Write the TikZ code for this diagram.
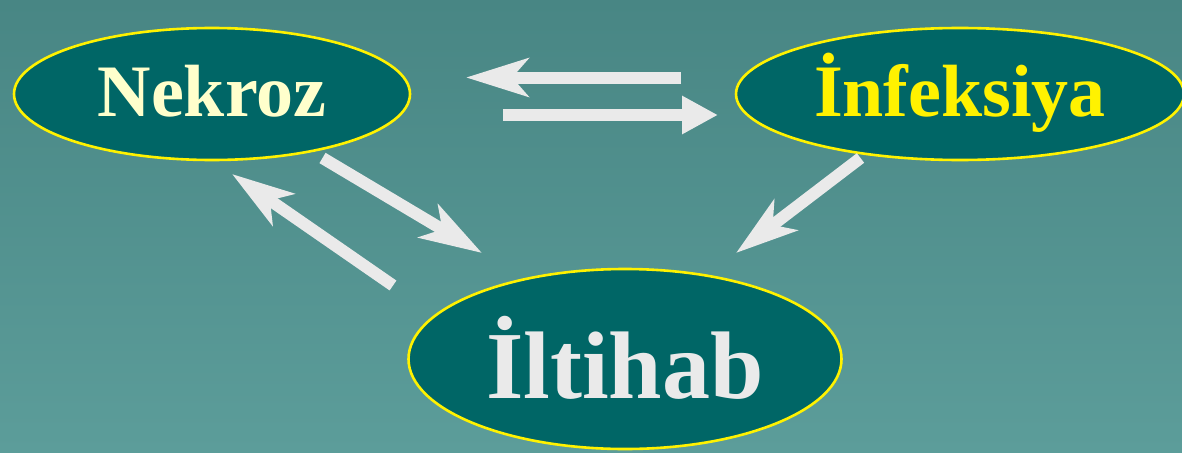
\documentclass[tikz,border=0pt]{standalone}
\usepackage{fontspec}
\setmainfont{Liberation Serif}
\usetikzlibrary{arrows.meta,shapes.geometric}

\definecolor{bgtop}{RGB}{72,134,132}
\definecolor{bgbot}{RGB}{92,157,154}
\definecolor{blobfill}{RGB}{0,102,102}
\definecolor{arrowgray}{RGB}{234,234,234}
\definecolor{cream}{RGB}{255,255,204}

\tikzset{x=1pt,y=-1pt}
\tikzset{blob/.style={ellipse,draw=yellow,line width=2.6pt,fill=blobfill,
        inner sep=0pt,font=\bfseries}}
\tikzset{flow/.style={draw=arrowgray,line width=12pt,
        -{Stealth[length=62pt,width=38pt,inset=16pt,fill=arrowgray]}}}
\tikzset{flowb/.style={draw=arrowgray,line width=12pt,
        -{Triangle[length=36pt,width=36pt,fill=arrowgray]}}}

\begin{document}
\begin{tikzpicture}
    \shade[top color=bgtop,bottom color=bgbot] (0,0) rectangle (1182,452);
    \useasboundingbox (0,0) rectangle (1182,452);

    \node[blob,minimum width=396pt,minimum height=132pt,text=cream,
          font=\fontsize{74}{74}\bfseries,text height=44pt,text depth=0pt]
          (nek) at (212,94) {Nekroz};
    \node[blob,minimum width=448pt,minimum height=132pt,text=yellow,
          font=\fontsize{74}{74}\bfseries,text height=44pt,text depth=0pt]
          (inf) at (960,94) {İnfeksiya};
    \node[blob,minimum width=433pt,minimum height=180pt,text=arrowgray,
          font=\fontsize{96}{96}\bfseries,text height=78pt,text depth=0pt]
          (ilt) at (625,359) {İltihab};

    % arrow ends
    \coordinate (a1) at (681,77.5);
    \coordinate (a2) at (466,77.5);
    \coordinate (b1) at (503,115);
    \coordinate (b2) at (718,115);
    \coordinate (c1) at (322.5,158);
    \coordinate (c2) at (482,253);
    \coordinate (d1) at (393,285.5);
    \coordinate (d2) at (232,174);
    \coordinate (e1) at (860.5,158);
    \coordinate (e2) at (736,253);

    \draw[flow] (a1) -- (a2);
    \draw[flowb] (b1) -- (b2);
    \draw[flow] (c1) -- (c2);
    \draw[flow] (d1) -- (d2);
    \draw[flow] (e1) -- (e2);
\end{tikzpicture}
\end{document}
